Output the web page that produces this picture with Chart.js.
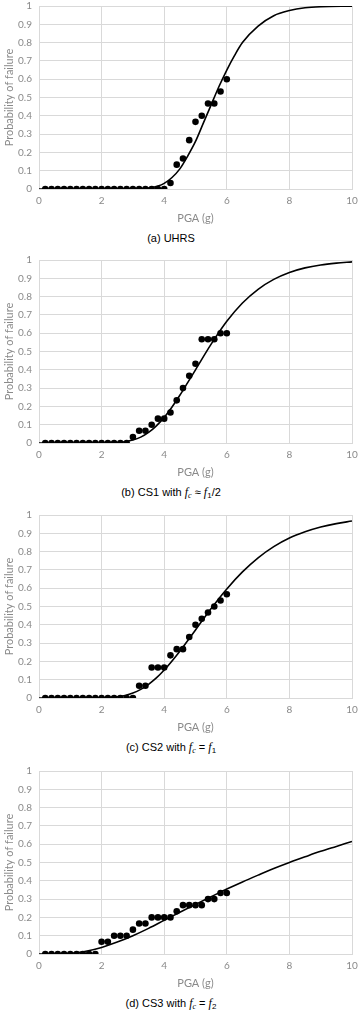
<!DOCTYPE html>
<html lang="en">
<head>
    <meta charset="UTF-8">
    <title>Probability of failure vs PGA</title>
    <style>
        body {
            margin: 0;
            background: #ffffff;
            width: 358px;
            height: 1011px;
            position: relative;
            overflow: hidden;
        }

        .panel {
            position: absolute;
            left: 0;
            width: 358px;
            height: 260px;
        }

        .plot {
            position: relative;
            width: 358px;
            height: 225px;
        }

        .caption {
            position: absolute;
            left: -8px;
            width: 358px;
            top: 231px;
            text-align: center;
            font-family: "Liberation Sans", Arial, sans-serif;
            font-size: 11px;
            line-height: 14px;
            color: #000;
        }

        .caption i {
            font-family: "Liberation Serif", "DejaVu Serif", serif;
            font-size: 12px;
        }

        .caption sub {
            font-size: 8px;
            vertical-align: -2px;
        }
    </style>
    <script src="https://cdn.jsdelivr.net/npm/chart.js"></script>
</head>
<body>
    <div class="panel" style="top: 0px;">
        <div class="plot"><canvas id="chartA"></canvas></div>
        <div class="caption">(a) UHRS</div>
    </div>
    <div class="panel" style="top: 254px;">
        <div class="plot"><canvas id="chartB"></canvas></div>
        <div class="caption">(b) CS1 with <i>f<sub>c</sub></i> &asymp; <i>f</i><sub>1</sub>/2</div>
    </div>
    <div class="panel" style="top: 509px;">
        <div class="plot"><canvas id="chartC"></canvas></div>
        <div class="caption">(c) CS2 with <i>f<sub>c</sub></i> = <i>f</i><sub>1</sub></div>
    </div>
    <div class="panel" style="top: 765px;">
        <div class="plot"><canvas id="chartD"></canvas></div>
        <div class="caption">(d) CS3 with <i>f<sub>c</sub></i> = <i>f</i><sub>2</sub></div>
    </div>

    <script>
        // PGA levels of the analyses (g)
        const pga = [0.2, 0.4, 0.6, 0.8, 1.0, 1.2, 1.4, 1.6, 1.8, 2.0,
                     2.2, 2.4, 2.6, 2.8, 3.0, 3.2, 3.4, 3.6, 3.8, 4.0,
                     4.2, 4.4, 4.6, 4.8, 5.0, 5.2, 5.4, 5.6, 5.8, 6.0];

        // observed fraction of failures
        const failUHRS = [0, 0, 0, 0, 0, 0, 0, 0, 0, 0,
                          0, 0, 0, 0, 0, 0, 0, 0, 0, 0,
                          0.033, 0.133, 0.167, 0.267, 0.367, 0.4, 0.467, 0.467, 0.533, 0.6];
        const failCS1 = [0, 0, 0, 0, 0, 0, 0, 0, 0, 0,
                         0, 0, 0, 0, 0.033, 0.067, 0.067, 0.1, 0.133, 0.133,
                         0.167, 0.233, 0.3, 0.367, 0.433, 0.567, 0.567, 0.567, 0.6, 0.6];
        const failCS2 = [0, 0, 0, 0, 0, 0, 0, 0, 0, 0,
                         0, 0, 0, 0, 0, 0.067, 0.067, 0.167, 0.167, 0.167,
                         0.233, 0.267, 0.267, 0.333, 0.4, 0.433, 0.467, 0.5, 0.533, 0.567];
        const failCS3 = [0, 0, 0, 0, 0, 0, 0, 0, 0, 0.067,
                         0.067, 0.1, 0.1, 0.1, 0.133, 0.167, 0.167, 0.2, 0.2, 0.2,
                         0.2, 0.233, 0.267, 0.267, 0.267, 0.267, 0.3, 0.3, 0.333, 0.333];

        // fitted fragility curves
        const fitXUHRS = [0, 3.0, 3.5, 3.8, 4.0, 4.25, 4.5, 4.75, 5.0, 5.25, 5.5, 5.75,
                          6.0, 6.25, 6.5, 7.0, 7.5, 8.0, 8.5, 9.0, 10];
        const fitYUHRS = [0, 0.001, 0.005, 0.016, 0.031, 0.063, 0.11, 0.18, 0.26, 0.36, 0.46, 0.56,
                          0.65, 0.73, 0.80, 0.89, 0.947, 0.975, 0.99, 0.996, 0.999];

        const fitXCS1 = [0, 2.0, 2.5, 2.75, 3.0, 3.25, 3.5, 3.75, 4.0, 4.25, 4.5, 4.75,
                         5.0, 5.5, 6.0, 6.5, 7.0, 7.5, 8.0, 8.5, 9.0, 9.5, 10];
        const fitYCS1 = [0, 0.0003, 0.0024, 0.007, 0.016, 0.032, 0.058, 0.094, 0.14, 0.197, 0.261, 0.33,
                         0.40, 0.54, 0.665, 0.765, 0.84, 0.894, 0.932, 0.957, 0.973, 0.983, 0.99];

        const fitXCS2 = [0, 2.0, 2.5, 2.75, 3.0, 3.25, 3.5, 3.75, 4.0, 4.5, 5.0, 5.5,
                         6.0, 6.5, 7.0, 7.5, 8.0, 8.5, 9.0, 9.5, 10];
        const fitYCS2 = [0, 0.0009, 0.0064, 0.014, 0.027, 0.047, 0.075, 0.11, 0.153, 0.256, 0.372, 0.489,
                         0.596, 0.689, 0.766, 0.827, 0.874, 0.908, 0.934, 0.953, 0.967];

        const fitXCS3 = [0, 0.75, 1.0, 1.25, 1.5, 2.0, 2.5, 3.0, 3.5, 4.0, 4.5, 5.0,
                         5.5, 6.0, 6.5, 7.0, 7.5, 8.0, 8.5, 9.0, 9.5, 10];
        const fitYCS3 = [0, 0.0007, 0.0035, 0.008, 0.015, 0.036, 0.065, 0.10, 0.14, 0.184, 0.228, 0.271,
                         0.313, 0.355, 0.394, 0.431, 0.467, 0.5, 0.531, 0.561, 0.588, 0.615];

        const gridColor = '#d9d9d9';
        const labelColor = '#8a8a8a';

        function toPoints(xs, ys) {
            return xs.map((x, i) => ({ x: x, y: ys[i] }));
        }

        function makeChart(id, fail, fitX, fitY) {
            const ctx = document.getElementById(id).getContext('2d');
            return new Chart(ctx, {
                type: 'scatter',
                data: {
                    datasets: [
                        {
                            label: 'Observed',
                            data: toPoints(pga, fail),
                            pointRadius: 3.3,
                            pointBackgroundColor: '#000',
                            pointBorderWidth: 0,
                            showLine: false
                        },
                        {
                            label: 'Fitted',
                            data: toPoints(fitX, fitY),
                            showLine: true,
                            borderColor: '#000',
                            borderWidth: 1.6,
                            pointRadius: 0,
                            cubicInterpolationMode: 'monotone'
                        }
                    ]
                },
                options: {
                    responsive: true,
                    maintainAspectRatio: false,
                    animation: false,
                    layout: { padding: { top: 6, right: 6, bottom: 0, left: 0 } },
                    plugins: {
                        legend: { display: false },
                        tooltip: { enabled: false }
                    },
                    scales: {
                        x: {
                            type: 'linear',
                            min: 0,
                            max: 10,
                            ticks: {
                                stepSize: 2,
                                color: labelColor,
                                padding: 6,
                                maxRotation: 0,
                                font: { family: 'Lato', size: 10 }
                            },
                            grid: { color: gridColor, drawTicks: false },
                            border: { color: gridColor },
                            title: {
                                display: true,
                                text: 'PGA (g)',
                                color: labelColor,
                                padding: { top: 0, bottom: 0 },
                                font: { family: 'Lato', size: 11 }
                            },
                            afterFit: (scale) => {
                                scale.height = 36;
                                scale.paddingLeft = 0;
                                scale.paddingRight = 6;
                            }
                        },
                        y: {
                            min: 0,
                            max: 1,
                            ticks: {
                                stepSize: 0.1,
                                color: labelColor,
                                padding: 7,
                                font: { family: 'Lato', size: 10 },
                                callback: (v) => String(Math.round(v * 10) / 10)
                            },
                            grid: { color: gridColor, drawTicks: false },
                            border: { display: false },
                            title: {
                                display: true,
                                text: 'Probability of failure',
                                color: labelColor,
                                padding: { top: 3, bottom: 0 },
                                font: { family: 'Lato', size: 11 }
                            },
                            afterFit: (scale) => {
                                scale.width = 39;
                                scale.paddingTop = 6;
                                scale.paddingBottom = 6;
                            }
                        }
                    }
                }
            });
        }

        makeChart('chartA', failUHRS, fitXUHRS, fitYUHRS);
        makeChart('chartB', failCS1, fitXCS1, fitYCS1);
        makeChart('chartC', failCS2, fitXCS2, fitYCS2);
        makeChart('chartD', failCS3, fitXCS3, fitYCS3);
    </script>
</body>
</html>
